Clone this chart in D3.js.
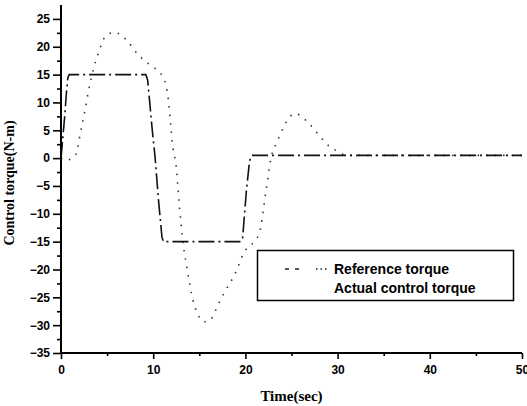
<!DOCTYPE html>
<html>
<head>
<meta charset="utf-8">
<script src="https://cdn.jsdelivr.net/npm/d3@7"></script>
<style>
  body { margin: 0; background: #fff; }
  svg { display: block; }
  .tick text { font-family: "Liberation Sans", Arial, sans-serif; font-weight: bold; font-size: 12px; fill: #000; }
</style>
</head>
<body>
<script>
// values
const refTime = [0, 0.5, 1.4, 1.8, 2.0, 2.6, 3.0, 4.1, 4.8, 5.8, 6.2, 7.8, 8.2, 9.2, 9.7, 11.1, 11.4, 11.6, 11.9, 12.1, 12.3, 12.5, 12.7, 13.0, 13.3, 13.7, 14.3, 14.8, 15.5, 16.0, 17.2, 17.7, 18.9, 19.8, 21.5, 22.2, 22.8, 23.4, 25.4, 26.4, 26.9, 29.2, 29.8, 31, 50];
const refTorque = [0, -0.4, 0.2, 1.7, 3.6, 8.6, 12.2, 19.1, 21.8, 22.6, 22.4, 19.8, 18.9, 17.3, 16.7, 14.4, 12.9, 11, 5.9, 2.3, 0.5, -1.6, -5.8, -11.5, -16, -20.1, -25.4, -27.9, -29.4, -29.3, -25.8, -24.2, -20.7, -17.1, -13.5, -6.3, 0.2, 2.8, 8, 7, 6.2, 2, 1.4, 0.5, 0.5];

const actTime = [0, 0.4, 0.6, 0.75, 0.9, 9.2, 9.4, 9.9, 10.2, 10.6, 10.95, 11.1, 19.5, 19.7, 20.1, 20.45, 20.7, 50];
const actTorque = [0, 7.5, 12, 14.5, 15, 15, 14, 5, 0.2, -8, -14.2, -15, -15, -14.3, -6, -0.5, 0.5, 0.5];

const xMajor = [0, 10, 20, 30, 40, 50];
const xMinor = [5, 15, 25, 35, 45];
const yMajor = [-35, -30, -25, -20, -15, -10, -5, 0, 5, 10, 15, 20, 25];
const yMinor = [-32.5, -27.5, -22.5, -17.5, -12.5, -7.5, -2.5, 2.5, 7.5, 12.5, 17.5, 22.5];

const legendLabels = ['Reference torque', 'Actual control torque'];

const width = 527, height = 406;
const plotLeft = 61, plotRight = 522, plotTop = 5, plotBottom = 353;

const svg = d3.select('body').append('svg')
    .attr('width', width)
    .attr('height', height);

const x = d3.scaleLinear().domain([0, 50]).range([plotLeft, plotRight]);
const y = d3.scaleLinear().domain([-35, 27.5]).range([plotBottom, plotTop]);

const refData = refTime.map((t, i) => [t, refTorque[i]]);
const actData = actTime.map((t, i) => [t, actTorque[i]]);

// reference torque, sparse dots
svg.append('path')
    .datum(refData)
    .attr('d', d3.line().x(d => x(d[0])).y(d => y(d[1])).curve(d3.curveMonotoneX))
    .attr('fill', 'none')
    .attr('stroke', '#333')
    .attr('stroke-width', 1.6)
    .attr('stroke-dasharray', '1.5,7');

// actual control torque, long dashes
svg.append('path')
    .datum(actData)
    .attr('d', d3.line().x(d => x(d[0])).y(d => y(d[1])))
    .attr('fill', 'none')
    .attr('stroke', '#111')
    .attr('stroke-width', 1.6)
    .attr('stroke-dasharray', '16,4,2,4');

// axes
const yAxis = svg.append('g')
    .attr('transform', `translate(${plotLeft},0)`)
    .call(d3.axisLeft(y).tickValues(yMajor).tickSize(8).tickPadding(3).tickFormat(d3.format('d')));
svg.append('g')
    .attr('transform', `translate(${plotLeft},0)`)
    .call(d3.axisLeft(y).tickValues(yMinor).tickSize(4).tickFormat(''))
    .select('.domain').remove();

const xAxis = svg.append('g')
    .attr('transform', `translate(0,${plotBottom})`)
    .call(d3.axisBottom(x).tickValues(xMajor).tickSize(6).tickPadding(6).tickFormat(d3.format('d')));
svg.append('g')
    .attr('transform', `translate(0,${plotBottom})`)
    .call(d3.axisBottom(x).tickValues(xMinor).tickSize(3).tickFormat(''))
    .select('.domain').remove();

svg.selectAll('.domain').attr('stroke', '#000').attr('stroke-width', 2);
svg.selectAll('.tick line').attr('stroke', '#000').attr('stroke-width', 1.6);
// plain axis lines, no end caps
yAxis.select('.domain').attr('d', `M0,${plotTop}V${plotBottom}`);
xAxis.select('.domain').attr('d', `M${plotLeft},0H${plotRight}`);

// titles
svg.append('text')
    .attr('transform', `translate(14,${(plotTop + plotBottom) / 2 + 4}) rotate(-90)`)
    .attr('text-anchor', 'middle')
    .attr('font-family', '"Liberation Serif", "Times New Roman", serif')
    .attr('font-weight', 'bold')
    .attr('font-size', 14)
    .text('Control torque(N-m)');

svg.append('text')
    .attr('x', (plotLeft + plotRight) / 2)
    .attr('y', 401)
    .attr('text-anchor', 'middle')
    .attr('font-family', '"Liberation Serif", "Times New Roman", serif')
    .attr('font-weight', 'bold')
    .attr('font-size', 15)
    .text('Time(sec)');

// legend
const legend = svg.append('g');
legend.append('rect')
    .attr('x', 257.5).attr('y', 250.5)
    .attr('width', 256).attr('height', 50)
    .attr('fill', '#fff')
    .attr('stroke', '#000')
    .attr('stroke-width', 1.5);

legend.append('line')
    .attr('x1', 285).attr('x2', 299).attr('y1', 269).attr('y2', 269)
    .attr('stroke', '#222').attr('stroke-width', 1.4)
    .attr('stroke-dasharray', '4,6');
legend.append('line')
    .attr('x1', 316).attr('x2', 327).attr('y1', 269).attr('y2', 269)
    .attr('stroke', '#222').attr('stroke-width', 1.4)
    .attr('stroke-dasharray', '1.5,3');

legend.selectAll('text.lab')
    .data(legendLabels)
    .join('text')
    .attr('class', 'lab')
    .attr('x', 334)
    .attr('y', (d, i) => 274 + i * 19)
    .attr('font-family', '"Liberation Sans", Arial, sans-serif')
    .attr('font-weight', 'bold')
    .attr('font-size', 14)
    .attr('fill', '#000')
    .text(d => d);
</script>
</body>
</html>
